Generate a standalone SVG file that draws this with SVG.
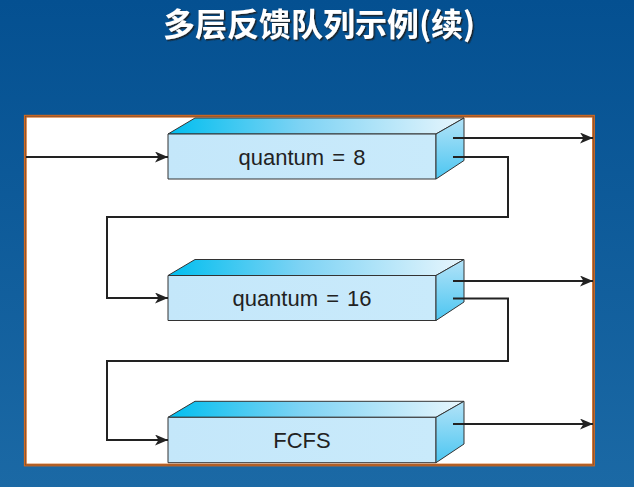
<svg xmlns="http://www.w3.org/2000/svg" width="634" height="487" viewBox="0 0 634 487">
  <defs>
    <linearGradient id="bg" x1="0" y1="0" x2="0" y2="1">
      <stop offset="0" stop-color="#045091"/>
      <stop offset="1" stop-color="#1B69A5"/>
    </linearGradient>
    <linearGradient id="topFace" x1="0" y1="0" x2="1" y2="0">
      <stop offset="0" stop-color="#00BEEF"/>
      <stop offset="0.45" stop-color="#7ED3F4"/>
      <stop offset="1" stop-color="#E8F6FD"/>
    </linearGradient>
    <linearGradient id="frontFace" x1="0" y1="0" x2="1" y2="0">
      <stop offset="0" stop-color="#C4E7FA"/>
      <stop offset="1" stop-color="#C9EAFB"/>
    </linearGradient>
    <linearGradient id="sideFace" x1="0" y1="0" x2="0" y2="1">
      <stop offset="0" stop-color="#B3E3F8"/>
      <stop offset="1" stop-color="#4CC6F1"/>
    </linearGradient>
    <filter id="shadow" filterUnits="userSpaceOnUse" x="140" y="0" width="360" height="60">
      <feDropShadow dx="1.5" dy="1.5" stdDeviation="0.6" flood-color="#1a1a1a" flood-opacity="0.9"/>
    </filter>
    <marker id="arrow" markerUnits="userSpaceOnUse" markerWidth="15" markerHeight="13" refX="13" refY="5.5" orient="auto">
      <path d="M0,0 L13,5.5 L0,11 L3.5,5.5 z" fill="#222"/>
    </marker>
    <style>
      .face { stroke: #333; stroke-width: 1; stroke-linejoin: round; }
      .top { fill: url(#topFace); }
      .front { fill: url(#frontFace); }
      .side { fill: url(#sideFace); }
      .label { font-family: "Liberation Sans", Arial, sans-serif; font-size: 22px; fill: #222; text-anchor: middle; word-spacing: 2px; }
      .conn { fill: none; stroke: #222; stroke-width: 2; }
      .title { font-family: "Noto Sans CJK SC", "Liberation Sans", sans-serif; font-weight: bold; font-size: 32px; fill: #fff; text-anchor: middle; }
    </style>
  </defs>

  <rect x="0" y="0" width="634" height="487" fill="url(#bg)"/>

  <text class="title" x="319" y="36" filter="url(#shadow)">多层反馈队列示例(续)</text>

  <g id="panel">
    <rect x="25.3" y="116.2" width="568.2" height="348.8" fill="#fff" stroke="#D2691E" stroke-width="2.8"/>
    <rect x="25.3" y="116.2" width="568.2" height="348.8" fill="none" stroke="#6a4a3a" stroke-width="0.6"/>
  </g>

  <g id="queue1">
    <polygon class="face top" points="168,134 195,118 464,118 436,134"/>
    <rect class="face front" x="168" y="134" width="268" height="45"/>
    <polygon class="face side" points="436,134 464,118 464,160.5 436,179"/>
    <text class="label" x="302" y="165">quantum = 8</text>
  </g>

  <g id="queue2">
    <polygon class="face top" points="168,275.5 195,259.5 464,259.5 436,275.5"/>
    <rect class="face front" x="168" y="275.5" width="268" height="45"/>
    <polygon class="face side" points="436,275.5 464,259.5 464,302 436,320.5"/>
    <text class="label" x="302" y="306">quantum = 16</text>
  </g>

  <g id="queue3">
    <polygon class="face top" points="168,417.3 195,401.3 464,401.3 436,417.3"/>
    <rect class="face front" x="168" y="417.3" width="268" height="45.4"/>
    <polygon class="face side" points="436,417.3 464,401.3 464,444 436,462.7"/>
    <text class="label" x="302" y="448">FCFS</text>
  </g>

  <g id="connectors">
    <path class="conn" d="M26,157 H168" marker-end="url(#arrow)"/>
    <path class="conn" d="M453,138 H593" marker-end="url(#arrow)"/>
    <path class="conn" d="M453,157 H508 V217 H107 V298 H168" marker-end="url(#arrow)"/>
    <path class="conn" d="M453,281 H593" marker-end="url(#arrow)"/>
    <path class="conn" d="M453,298.5 H508 V361 H107 V440 H168" marker-end="url(#arrow)"/>
    <path class="conn" d="M453,424 H593" marker-end="url(#arrow)"/>
  </g>
</svg>
